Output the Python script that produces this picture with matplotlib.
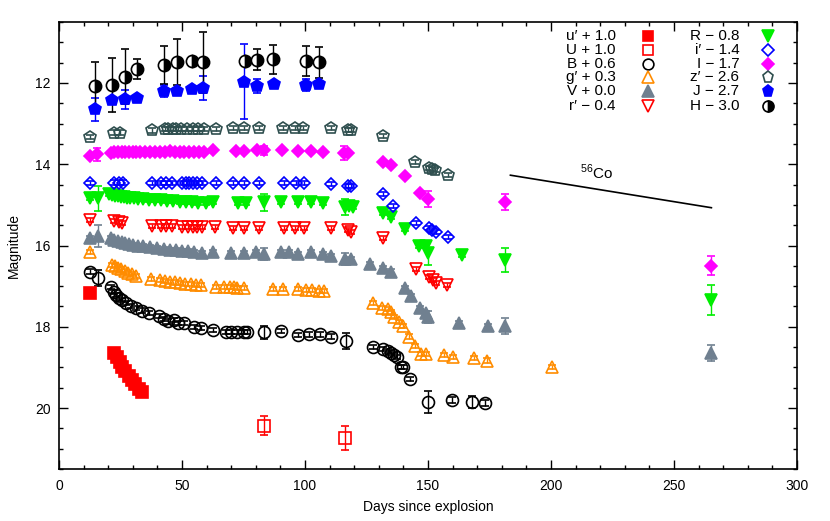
import matplotlib
matplotlib.use('Agg')
import matplotlib.pyplot as plt
from matplotlib.ticker import MultipleLocator

plt.rcParams['font.family'] = ['Liberation Sans', 'DejaVu Sans']
plt.rcParams['mathtext.fontset'] = 'custom'
plt.rcParams['mathtext.rm'] = 'Liberation Sans'

# Each band: (day since explosion, shifted magnitude, error)
u_prime = [(12.5, 17.16, 0.05), (22.4, 18.65, 0.05), (23.6, 18.75, 0.05), (24.6, 18.86, 0.05),
           (25.8, 18.98, 0.05), (27.0, 19.08, 0.05), (28.3, 19.20, 0.05), (29.6, 19.30, 0.05),
           (31.0, 19.40, 0.05), (32.5, 19.52, 0.05), (33.9, 19.60, 0.05)]
U_band = [(83.4, 20.43, 0.24), (116.4, 20.74, 0.30)]
B_band = [(12.5, 16.64, 0.05), (16.0, 16.80, 0.20), (21.0, 17.01, 0.05), (22.4, 17.15, 0.05),
          (23.0, 17.21, 0.05), (24.4, 17.30, 0.05), (25.8, 17.35, 0.05), (27.4, 17.42, 0.05),
          (29.2, 17.50, 0.05), (31.5, 17.54, 0.05), (33.9, 17.60, 0.05), (36.4, 17.67, 0.05),
          (40.7, 17.73, 0.05), (42.7, 17.81, 0.05), (44.5, 17.87, 0.05), (46.8, 17.83, 0.05),
          (48.2, 17.90, 0.05), (50.9, 17.91, 0.05), (54.9, 18.00, 0.05), (57.7, 18.04, 0.05),
          (62.8, 18.09, 0.05), (67.8, 18.12, 0.05), (69.9, 18.14, 0.05), (72.2, 18.12, 0.05),
          (75.3, 18.12, 0.05), (76.6, 18.12, 0.05), (83.4, 18.13, 0.16), (90.2, 18.10, 0.05),
          (97.0, 18.20, 0.05), (101.5, 18.19, 0.05), (106.1, 18.19, 0.05), (110.6, 18.24, 0.05),
          (116.7, 18.35, 0.20), (127.5, 18.49, 0.05), (131.6, 18.54, 0.05), (133.6, 18.60, 0.05),
          (134.8, 18.65, 0.05), (136.0, 18.70, 0.05), (137.2, 18.74, 0.05), (139.0, 18.98, 0.05),
          (140.0, 18.98, 0.05), (142.7, 19.28, 0.05), (149.9, 19.86, 0.27), (159.8, 19.80, 0.08),
          (168.0, 19.85, 0.15), (173.0, 19.88, 0.08)]
g_prime = [(12.5, 16.17, 0.05), (21.7, 16.47, 0.05), (22.8, 16.51, 0.05), (24.0, 16.55, 0.05),
           (25.3, 16.59, 0.05), (26.7, 16.63, 0.05), (28.2, 16.67, 0.05), (29.8, 16.70, 0.05),
           (31.5, 16.74, 0.05), (37.3, 16.83, 0.05), (41.0, 16.86, 0.05), (43.0, 16.88, 0.05),
           (45.0, 16.90, 0.05), (47.0, 16.91, 0.05), (49.2, 16.93, 0.05), (51.3, 16.94, 0.05),
           (53.5, 16.95, 0.05), (55.5, 16.97, 0.05), (57.8, 16.98, 0.05), (63.8, 17.01, 0.05),
           (67.0, 17.02, 0.05), (69.5, 17.03, 0.05), (71.0, 17.03, 0.05), (72.5, 17.04, 0.05),
           (75.3, 17.05, 0.05), (86.8, 17.06, 0.05), (90.9, 17.06, 0.05), (97.0, 17.08, 0.05),
           (100.3, 17.09, 0.05), (103.0, 17.10, 0.05), (105.6, 17.11, 0.05), (107.9, 17.12, 0.05),
           (127.5, 17.42, 0.05), (131.3, 17.53, 0.05), (133.6, 17.57, 0.05), (135.0, 17.64, 0.05),
           (136.3, 17.75, 0.05), (138.4, 17.89, 0.05), (139.7, 17.97, 0.05), (142.4, 18.24, 0.05),
           (144.9, 18.47, 0.05), (147.2, 18.67, 0.05), (149.0, 18.67, 0.05), (156.7, 18.70, 0.05),
           (160.1, 18.75, 0.05), (168.9, 18.77, 0.05), (174.0, 18.83, 0.05), (200.4, 19.00, 0.05)]
V_band = [(12.5, 15.82, 0.05), (16.0, 15.76, 0.27), (21.0, 15.82, 0.05), (22.5, 15.86, 0.05),
          (24.0, 15.89, 0.05), (25.5, 15.92, 0.05), (27.0, 15.95, 0.05), (28.5, 15.97, 0.05),
          (30.0, 15.99, 0.05), (32.0, 16.01, 0.05), (34.0, 16.02, 0.05), (37.0, 16.04, 0.05),
          (40.0, 16.06, 0.05), (42.5, 16.08, 0.05), (45.0, 16.10, 0.05), (47.5, 16.11, 0.05),
          (50.0, 16.13, 0.05), (52.5, 16.14, 0.05), (55.0, 16.16, 0.05), (58.3, 16.19, 0.05),
          (62.8, 16.17, 0.05), (70.0, 16.19, 0.05), (75.0, 16.19, 0.05), (80.0, 16.17, 0.05),
          (83.4, 16.20, 0.15), (90.2, 16.17, 0.05), (93.3, 16.17, 0.05), (97.0, 16.22, 0.05),
          (102.4, 16.17, 0.05), (107.4, 16.22, 0.05), (110.6, 16.25, 0.05), (116.4, 16.34, 0.15),
          (118.7, 16.34, 0.05), (126.6, 16.46, 0.05), (131.6, 16.56, 0.05), (135.0, 16.64, 0.05),
          (140.8, 17.05, 0.05), (142.9, 17.25, 0.05), (146.9, 17.53, 0.05), (149.0, 17.67, 0.05),
          (149.9, 17.75, 0.15), (162.8, 17.90, 0.05), (174.3, 17.97, 0.05), (181.4, 17.98, 0.20),
          (265.2, 18.65, 0.20)]
r_prime = [(12.5, 15.37, 0.05), (22.4, 15.40, 0.05), (24.4, 15.43, 0.05), (25.8, 15.45, 0.05),
           (37.7, 15.52, 0.05), (41.4, 15.52, 0.05), (43.4, 15.52, 0.05), (45.9, 15.52, 0.05),
           (50.2, 15.54, 0.05), (52.6, 15.54, 0.05), (54.5, 15.54, 0.05), (56.3, 15.54, 0.05),
           (58.3, 15.54, 0.05), (63.5, 15.54, 0.05), (70.7, 15.58, 0.05), (75.3, 15.58, 0.05),
           (81.1, 15.58, 0.05), (91.6, 15.58, 0.05), (96.0, 15.58, 0.05), (99.7, 15.58, 0.05),
           (110.6, 15.58, 0.05), (117.3, 15.63, 0.05), (118.7, 15.66, 0.05), (131.6, 15.82, 0.05),
           (145.2, 16.58, 0.05), (150.6, 16.78, 0.05), (152.0, 16.85, 0.05), (153.3, 16.93, 0.05),
           (157.8, 16.97, 0.05)]
R_band = [(12.5, 14.84, 0.05), (16.0, 14.84, 0.30), (20.4, 14.74, 0.05), (21.5, 14.76, 0.05),
          (22.6, 14.77, 0.05), (23.8, 14.78, 0.05), (25.0, 14.80, 0.05), (26.3, 14.81, 0.05),
          (27.5, 14.82, 0.05), (29.0, 14.83, 0.05), (30.5, 14.84, 0.05), (32.0, 14.85, 0.05),
          (34.0, 14.86, 0.05), (36.5, 14.87, 0.05), (39.0, 14.88, 0.05), (41.5, 14.89, 0.05),
          (44.0, 14.90, 0.05), (46.5, 14.91, 0.05), (49.0, 14.92, 0.05), (51.5, 14.93, 0.05),
          (54.0, 14.94, 0.05), (56.5, 14.95, 0.05), (59.7, 14.96, 0.05), (62.8, 14.94, 0.05),
          (72.6, 14.95, 0.05), (76.0, 14.95, 0.05), (83.4, 14.94, 0.20), (90.2, 14.92, 0.05),
          (97.0, 14.94, 0.05), (102.4, 14.94, 0.05), (107.4, 14.95, 0.05), (116.4, 15.06, 0.20),
          (118.0, 15.04, 0.05), (119.4, 15.06, 0.05), (131.6, 15.19, 0.05), (135.0, 15.29, 0.05),
          (140.8, 15.60, 0.05), (146.5, 16.01, 0.05), (149.0, 16.01, 0.05), (149.9, 16.19, 0.30),
          (163.9, 16.23, 0.05), (181.4, 16.35, 0.29), (265.2, 17.34, 0.37)]
i_prime = [(12.5, 14.47, 0.05), (22.4, 14.45, 0.05), (24.4, 14.45, 0.05), (26.0, 14.45, 0.05),
           (38.0, 14.47, 0.05), (41.4, 14.47, 0.05), (43.4, 14.47, 0.05), (45.9, 14.47, 0.05),
           (50.2, 14.47, 0.05), (51.6, 14.47, 0.05), (52.9, 14.47, 0.05), (54.5, 14.47, 0.05),
           (56.3, 14.47, 0.05), (58.3, 14.47, 0.05), (63.8, 14.47, 0.05), (70.9, 14.47, 0.05),
           (75.3, 14.47, 0.05), (81.1, 14.47, 0.05), (91.6, 14.47, 0.05), (96.3, 14.47, 0.05),
           (99.7, 14.47, 0.05), (110.6, 14.48, 0.05), (117.3, 14.53, 0.05), (118.7, 14.53, 0.05),
           (131.6, 14.73, 0.05), (135.7, 15.02, 0.05), (145.2, 15.45, 0.05), (150.3, 15.58, 0.05),
           (151.7, 15.62, 0.05), (153.3, 15.66, 0.05), (158.0, 15.78, 0.05)]
I_band = [(12.5, 13.79, 0.05), (15.6, 13.76, 0.15), (21.0, 13.72, 0.05), (22.5, 13.71, 0.05),
          (24.0, 13.71, 0.05), (25.5, 13.71, 0.05), (27.0, 13.70, 0.05), (28.5, 13.70, 0.05),
          (30.0, 13.70, 0.05), (31.5, 13.70, 0.05), (33.0, 13.70, 0.05), (35.0, 13.70, 0.05),
          (37.0, 13.70, 0.05), (39.0, 13.70, 0.05), (41.0, 13.69, 0.05), (43.0, 13.69, 0.05),
          (45.0, 13.68, 0.05), (47.0, 13.69, 0.05), (49.0, 13.69, 0.05), (51.0, 13.69, 0.05),
          (53.0, 13.69, 0.05), (55.0, 13.69, 0.05), (57.0, 13.70, 0.05), (59.0, 13.70, 0.05),
          (62.8, 13.66, 0.05), (71.9, 13.68, 0.05), (75.0, 13.68, 0.05), (80.3, 13.66, 0.05),
          (83.4, 13.66, 0.12), (90.5, 13.66, 0.05), (97.0, 13.68, 0.05), (102.4, 13.68, 0.05),
          (107.4, 13.70, 0.05), (116.0, 13.72, 0.18), (117.3, 13.73, 0.05), (131.6, 13.94, 0.05),
          (135.0, 14.02, 0.05), (140.8, 14.30, 0.05), (146.9, 14.70, 0.05), (149.9, 14.86, 0.20),
          (181.4, 14.93, 0.20), (265.2, 16.50, 0.23)]
z_prime = [(12.5, 13.32, 0.05), (22.4, 13.22, 0.05), (24.7, 13.22, 0.05), (37.7, 13.17, 0.05),
           (42.9, 13.14, 0.05), (44.5, 13.14, 0.05), (46.3, 13.13, 0.05), (47.6, 13.13, 0.05),
           (49.7, 13.13, 0.05), (52.1, 13.13, 0.05), (54.4, 13.13, 0.05), (56.5, 13.13, 0.05),
           (58.9, 13.13, 0.05), (64.0, 13.13, 0.05), (70.8, 13.12, 0.05), (75.3, 13.12, 0.05),
           (81.1, 13.11, 0.05), (91.2, 13.11, 0.05), (96.1, 13.11, 0.05), (99.3, 13.11, 0.05),
           (110.6, 13.12, 0.05), (117.3, 13.15, 0.05), (118.7, 13.16, 0.05), (131.6, 13.30, 0.05),
           (144.9, 13.94, 0.05), (150.3, 14.10, 0.05), (151.5, 14.12, 0.05), (152.9, 14.15, 0.05),
           (158.0, 14.26, 0.05)]
J_band = [(14.5, 12.65, 0.29), (21.7, 12.43, 0.06), (26.9, 12.40, 0.23), (31.9, 12.36, 0.06),
          (42.7, 12.20, 0.15), (47.9, 12.20, 0.06), (54.0, 12.16, 0.08), (58.7, 12.13, 0.29),
          (75.0, 11.97, 0.92), (80.3, 12.07, 0.17), (87.5, 12.02, 0.05), (100.4, 12.06, 0.15),
          (105.5, 12.02, 0.05)]
H_band = [(14.5, 12.07, 0.58), (21.7, 12.05, 0.66), (26.9, 11.85, 0.68), (31.9, 11.66, 0.24),
          (42.7, 11.56, 0.46), (47.9, 11.49, 0.57), (54.0, 11.46, 0.05), (58.7, 11.49, 0.75),
          (75.6, 11.45, 0.05), (80.3, 11.43, 0.26), (87.1, 11.42, 0.35), (100.4, 11.45, 0.37),
          (105.5, 11.49, 0.38)]

# 56Co decay reference line
co_days = [183.5, 265.2]
co_mags = [14.27, 15.07]

labels = ['u\u2032 + 1.0', 'U + 1.0', 'B + 0.6', 'g\u2032 + 0.3', 'V + 0.0', 'r\u2032 \u2212 0.4',
          'R \u2212 0.8', 'i\u2032 \u2212 1.4', 'I \u2212 1.7', 'z\u2032 \u2212 2.6', 'J \u2212 2.7', 'H \u2212 3.0']
data = [u_prime, U_band, B_band, g_prime, V_band, r_prime,
        R_band, i_prime, I_band, z_prime, J_band, H_band]

# style: marker, colour, filled, markersize
styles = [('s', '#ff0000', True, 8.0), ('s', '#ff0000', False, 8.5), ('o', '#000000', False, 8.6),
          ('^', '#ff8c00', False, 9.0), ('^', '#708090', True, 9.0), ('v', '#ff0000', False, 9.0),
          ('v', '#00ee00', True, 9.0), ('D', '#0000ff', False, 6.3), ('D', '#ff00ff', True, 6.3),
          ('p', '#2f4f4f', False, 9.0), ('p', '#0000ff', True, 9.0), ('o', '#000000', 'half', 8.8)]


def marker_kw(style):
    mk, col, filled, ms = style
    kw = dict(marker=mk, color=col, mec=col, ms=ms, mew=1.2)
    if filled == 'half':
        kw.update(mfc=col, fillstyle='right', markerfacecoloralt='white')
    elif filled:
        kw.update(mfc=col)
    else:
        kw.update(mfc='none')
    return kw


fig = plt.figure(figsize=(8.3, 5.21), dpi=100)
ax = fig.add_axes([59 / 830, 1 - 469 / 521, 738 / 830, 447 / 521])

for band, st in zip(data, styles):
    d = [p[0] for p in band]
    m = [p[1] for p in band]
    e = [p[2] for p in band]
    ax.errorbar(d, m, yerr=e, ls='none', elinewidth=1.0, capsize=3, capthick=1.0,
                **marker_kw(st))

ax.plot(co_days, co_mags, color='black', lw=1.2)
ax.text(218.6, 14.2, r'$^{56}$Co', ha='center', va='center', fontsize=11)

# legend (two columns, text right-aligned left of the symbol)
col_text_x = [0.7547, 0.9218]
col_mark_x = [0.7985, 0.9611]
row_y = [0.969, 0.937, 0.907, 0.876, 0.845, 0.813]
for k, (lab, st) in enumerate(zip(labels, styles)):
    c, r = divmod(k, 6)
    ax.text(col_text_x[c], row_y[r], lab, transform=ax.transAxes, ha='right', va='center',
            fontsize=11)
    kw = marker_kw(st)
    kw['ms'] = st[3] * 0.9
    ax.plot([col_mark_x[c]], [row_y[r]], transform=ax.transAxes, clip_on=False, ls='none', **kw)

ax.set_xlim(0, 300)
ax.set_ylim(21.5, 10.5)
ax.xaxis.set_major_locator(MultipleLocator(50))
ax.xaxis.set_minor_locator(MultipleLocator(10))
ax.yaxis.set_major_locator(MultipleLocator(2))
ax.yaxis.set_minor_locator(MultipleLocator(0.5))
ax.tick_params(which='both', direction='in', top=True, right=True, width=1.0, labelsize=10)
ax.tick_params(which='major', length=6.5)
ax.tick_params(which='minor', length=3)
ax.tick_params(axis='x', pad=7)
ax.tick_params(axis='y', pad=6)
for s in ax.spines.values():
    s.set_linewidth(1.2)

ax.set_xlabel('Days since explosion', fontsize=10, labelpad=5)
ax.set_ylabel('Magnitude', fontsize=10, labelpad=10)

fig.savefig('out.png', dpi=100)
